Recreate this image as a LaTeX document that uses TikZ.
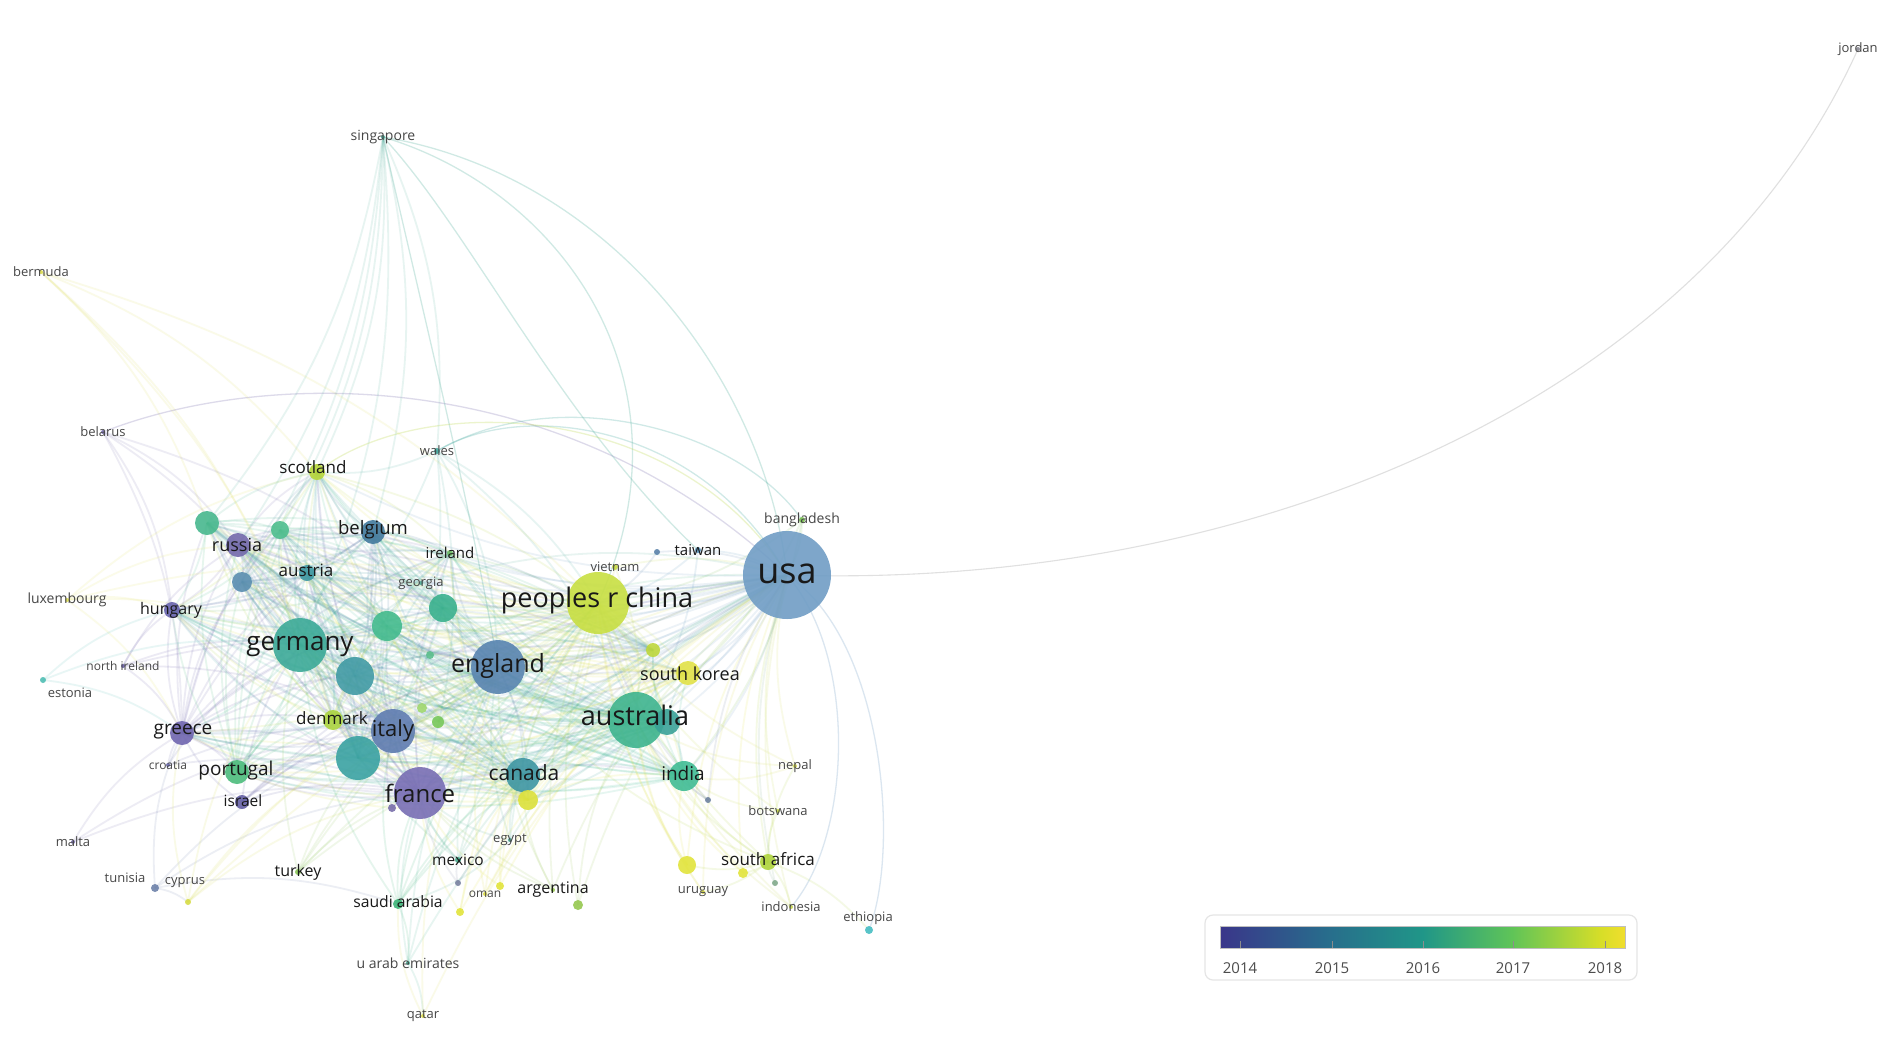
\documentclass[tikz,border=0pt]{standalone}
\usepackage{fontspec}
\setmainfont{Open Sans}
\usetikzlibrary{backgrounds}
% node colours
\definecolor{c-usa}{RGB}{112,157,197}
\definecolor{c-china}{RGB}{200,223,66}
\definecolor{c-aus}{RGB}{62,180,142}
\definecolor{c-aus2}{RGB}{58,162,152}
\definecolor{c-eng}{RGB}{88,132,176}
\definecolor{c-ger}{RGB}{60,170,152}
\definecolor{c-fra}{RGB}{120,110,180}
\definecolor{c-ita}{RGB}{95,124,176}
\definecolor{c-can}{RGB}{62,150,162}
\definecolor{c-canY}{RGB}{220,225,60}
\definecolor{c-ind}{RGB}{64,188,148}
\definecolor{c-kor}{RGB}{226,226,72}
\definecolor{c-gre}{RGB}{112,102,176}
\definecolor{c-por}{RGB}{76,188,124}
\definecolor{c-rus}{RGB}{116,106,172}
\definecolor{c-bel}{RGB}{66,122,158}
\definecolor{c-aut}{RGB}{62,152,162}
\definecolor{c-den}{RGB}{172,212,64}
\definecolor{c-gA}{RGB}{72,184,142}
\definecolor{c-gB}{RGB}{78,190,142}
\definecolor{c-sb}{RGB}{90,142,176}
\definecolor{c-gC}{RGB}{58,177,142}
\definecolor{c-gD}{RGB}{68,187,142}
\definecolor{c-tA}{RGB}{66,155,165}
\definecolor{c-tB}{RGB}{58,162,162}
\definecolor{c-sco}{RGB}{182,214,58}
\definecolor{c-irl}{RGB}{110,190,100}
\definecolor{c-hun}{RGB}{104,99,174}
\definecolor{c-ygA}{RGB}{190,215,60}
\definecolor{c-isr}{RGB}{100,95,165}
\definecolor{c-tur}{RGB}{140,200,90}
\definecolor{c-mex}{RGB}{70,170,140}
\definecolor{c-sau}{RGB}{60,180,120}
\definecolor{c-arg}{RGB}{150,200,80}
\definecolor{c-gH}{RGB}{150,200,80}
\definecolor{c-saf}{RGB}{175,212,60}
\definecolor{c-twn}{RGB}{90,150,190}
\definecolor{c-vnm}{RGB}{200,220,70}
\definecolor{c-bgd}{RGB}{120,190,80}
\definecolor{c-npl}{RGB}{215,220,80}
\definecolor{c-bwa}{RGB}{200,220,70}
\definecolor{c-ury}{RGB}{220,220,70}
\definecolor{c-idn}{RGB}{200,215,80}
\definecolor{c-eth}{RGB}{70,190,195}
\definecolor{c-egy}{RGB}{80,170,150}
\definecolor{c-omn}{RGB}{220,220,70}
\definecolor{c-uae}{RGB}{70,180,150}
\definecolor{c-qat}{RGB}{220,220,80}
\definecolor{c-mlt}{RGB}{120,110,175}
\definecolor{c-tun}{RGB}{110,130,170}
\definecolor{c-cyp}{RGB}{215,220,70}
\definecolor{c-hrv}{RGB}{110,110,175}
\definecolor{c-est}{RGB}{80,190,180}
\definecolor{c-nir}{RGB}{110,100,170}
\definecolor{c-lux}{RGB}{225,225,90}
\definecolor{c-blr}{RGB}{120,110,175}
\definecolor{c-wal}{RGB}{70,170,160}
\definecolor{c-geo}{RGB}{80,170,150}
\definecolor{c-sgp}{RGB}{70,170,150}
\definecolor{c-bmu}{RGB}{220,220,80}
\definecolor{c-jor}{RGB}{140,140,150}
\definecolor{c-yA}{RGB}{226,228,60}
\definecolor{c-yB}{RGB}{226,228,60}
\definecolor{c-yC}{RGB}{226,228,60}
\definecolor{c-yD}{RGB}{226,228,60}
\definecolor{c-d1}{RGB}{110,130,160}
\definecolor{c-d2}{RGB}{120,110,170}
\definecolor{c-d3}{RGB}{120,130,160}
\definecolor{c-gE}{RGB}{120,200,90}
\definecolor{c-gF}{RGB}{160,215,110}
\definecolor{c-gG}{RGB}{90,190,140}
\definecolor{c-sdA}{RGB}{130,170,140}
\definecolor{c-twd}{RGB}{90,130,170}
% legend colours
\definecolor{v0}{RGB}{58,54,138}
\definecolor{v1}{RGB}{40,108,140}
\definecolor{v2}{RGB}{32,150,136}
\definecolor{v3}{RGB}{95,196,88}
\definecolor{v4}{RGB}{215,222,40}
\definecolor{v5}{RGB}{240,222,45}
\definecolor{labc}{RGB}{25,25,25}
\definecolor{slabc}{RGB}{70,70,70}
\pgfdeclarehorizontalshading{viridisbar}{100bp}{color(0bp)=(v0); color(25bp)=(v0); color(38bp)=(v1); color(50bp)=(v2); color(61bp)=(v3); color(72bp)=(v4); color(75bp)=(v5); color(100bp)=(v5)}
\tikzset{
  nd/.style={circle, inner sep=0pt, outer sep=0pt, fill opacity=.9},
  lk/.style={line width=1.8pt, draw opacity=.13},
  lkf/.style={line width=1.3pt, draw opacity=.25},
  lab/.style={inner sep=0pt, text=labc},
  slab/.style={inner sep=0pt, text=slabc},
}
\begin{document}
\begin{tikzpicture}[x=1pt,y=-1pt]
\useasboundingbox (0,0) rectangle (1892,1037);
% ---------- nodes (circles)
\foreach \n/\x/\y/\r in {
 usa/787/575/44, china/598/603/31, aus/636/720/28, aus2/667/722/13, eng/498/667/27,
 ger/300/645/27, fra/420/793/26, ita/393/731/22, can/523/775/17, canY/528/800/10,
 ind/684/776/15, kor/688/673/12, gre/182/733/12, por/237/772/12, rus/238/545/12,
 bel/373/532/12, aut/307/573/8, den/333/720/10, gA/207/523/12, gB/280/530/9,
 sb/242/582/10, gC/443/608/14, gD/387/626/15, tA/355/676/19, tB/358/758/22,
 sco/317/472/8, irl/450/553/3, hun/172/610/8, ygA/653/650/7, isr/242/802/7,
 tur/298/872/3, mex/458/860/3, sau/398/904/5, arg/553/890/2, gH/578/905/5,
 saf/768/862/8, twn/698/550/3, vnm/615/567/3, bgd/802/520/3, npl/795/766/2,
 bwa/778/811/2, ury/703/892/2, idn/791/907/2, eth/869/930/4, egy/510/840/2,
 omn/485/894/2, uae/408/963/2, qat/423/1016/2, mlt/73/842/2, tun/155/888/4,
 cyp/188/902/3, hrv/168/765/2, est/43/680/3, nir/123/666/2, lux/67/600/2,
 blr/103/432/2, wal/437/451/3, geo/421/583/2, sgp/383/137/2, bmu/41/272/2,
 jor/1858/49/2, yA/687/865/9, yB/743/873/5, yC/460/912/4, yD/500/886/4,
 d1/708/800/3, d2/392/808/4, d3/458/883/3, gE/438/722/6, gF/422/708/5,
 gG/430/655/4, sdA/775/883/3, twd/657/552/3}
 \node[nd, minimum size=2*\r pt, fill=c-\n] (\n) at (\x,\y) {};
% ---------- edges
\begin{pgfonlayer}{background}
\fill[white] (0,0) rectangle (1892,1037);
\def\corelist{usa,china,aus,aus2,eng,ger,fra,ita,can,canY,ind,kor,gre,por,rus,bel,aut,den,gA,gB,sb,gC,gD,tA,tB,sco,irl,hun,ygA}
\foreach \a [count=\i] in \corelist {
  \foreach \b [count=\j] in \corelist {
    \ifnum\j>\i\relax
      \draw[lk, draw=c-\a] (\a.center) to[bend left=14] (\b.center);
    \fi
  }
}
\foreach \a/\b in {
 sgp/gA, sgp/rus, sgp/ger, sgp/bel, sgp/sco, sgp/gB, sgp/sb, sgp/wal,
 bmu/gA, bmu/sco, bmu/china, bmu/den, bmu/ger,
 blr/rus, blr/hun, blr/gre, blr/ger, blr/eng,
 lux/ger, lux/china, lux/hun, lux/rus, lux/gre, lux/sco,
 nir/gre, nir/ger, nir/eng, nir/hun, nir/rus, nir/ita,
 est/gre, est/ger, est/hun,
 hrv/gre, hrv/ita, hrv/fra, hrv/ger,
 mlt/gre, mlt/ita, mlt/fra,
 tun/fra, tun/gre, tun/ita, tun/cyp, tun/sau,
 cyp/gre, cyp/eng, cyp/fra, cyp/ita, cyp/usa, cyp/ger,
 isr/usa, isr/ger, isr/fra, isr/ita, isr/eng, isr/gre, isr/china,
 tur/fra, tur/ger, tur/eng, tur/usa, tur/ita, tur/china, tur/aus,
 mex/usa, mex/fra, mex/can, mex/china, mex/eng, mex/ger, mex/ita,
 omn/usa, omn/china, omn/eng, omn/aus,
 egy/usa, egy/china, egy/can, egy/fra, egy/eng, egy/sau,
 arg/usa, arg/fra, arg/can, arg/eng, arg/ger, arg/china,
 sau/usa, sau/china, sau/eng, sau/fra, sau/ita, sau/uae, sau/aus, sau/can, sau/ger,
 uae/usa, uae/fra, uae/qat, uae/china, uae/eng,
 qat/sau, qat/usa, qat/eng,
 saf/usa, saf/aus, saf/china, saf/bwa, saf/ind, saf/eth, saf/npl, saf/idn, saf/ury, saf/eng, saf/yA, saf/yB,
 bwa/usa, bwa/ind, bwa/china,
 npl/usa, npl/ind, npl/china, npl/aus,
 ury/usa, ury/china, ury/aus,
 idn/usa, idn/aus, idn/china,
 twn/usa, twn/china, twn/aus,
 vnm/usa, vnm/china, vnm/aus,
 bgd/usa, bgd/china, bgd/aus, bgd/ind,
 wal/eng, wal/sco, wal/ger, wal/aus, wal/china, wal/fra, wal/ita,
 geo/ger, geo/rus, geo/usa, geo/eng,
 yA/usa, yA/china, yA/aus, yA/ind, yB/usa, yB/china, yB/aus,
 yC/usa, yC/china, yC/fra, yC/can, yD/usa, yD/china, yD/fra, yD/can,
 d1/usa, d1/ind, d1/aus, d1/china, d2/fra, d2/usa, d2/ita, d3/usa, d3/mex, d3/fra,
 gE/usa, gE/china, gE/eng, gE/aus, gE/ger, gF/usa, gF/china, gF/eng, gF/ger,
 gG/usa, gG/china, gG/eng, gG/ger, gH/usa, gH/china, gH/aus,
 twd/usa, twd/china, sdA/usa, sdA/saf}
 \draw[lk, draw=c-\a] (\a.center) to[bend left=14] (\b.center);
% long arcs
\draw[lkf, draw=c-sgp] (sgp.center) .. controls (610,175) and (765,380) .. (usa.center);
\draw[lkf, draw=c-sgp] (sgp.center) .. controls (560,190) and (700,380) .. (china.center);
\draw[lkf, draw=c-sgp] (sgp.center) .. controls (470,230) and (560,420) .. (twn.center);
\draw[lkf, draw=c-sgp] (sgp.center) .. controls (420,300) and (470,500) .. (eng.center);
\draw[lkf, draw=c-blr] (blr.center) .. controls (260,370) and (560,360) .. (usa.center);
\draw[lkf, draw=c-wal] (wal.center) .. controls (520,400) and (700,420) .. (usa.center);
\draw[lkf, draw=c-wal] (wal.center) .. controls (560,380) and (740,430) .. (bgd.center);
\draw[lkf, draw=c-sco] (sco.center) .. controls (420,390) and (680,400) .. (usa.center);
\draw[lkf, draw=c-usa] (usa.center) .. controls (885,640) and (900,850) .. (eth.center);
\draw[lkf, draw=c-usa] (usa.center) .. controls (860,660) and (850,840) .. (idn.center);
\draw[line width=1.1pt, draw=black!12] (usa.center) .. controls (1250,590) and (1700,400) .. (jor.center);
\end{pgfonlayer}
% ---------- labels
\foreach \n/\x/\y/\t/\s in {
 usa/787/574/usa/36, china/597/600/peoples r china/27, aus/635/715/australia/27,
 eng/498/666/england/25, ger/300/647/germany/26, fra/420/793/france/24,
 ita/393/731/italy/22, can/524/773/canada/21, ind/683/773/india/19,
 kor/690/674/south korea/18, gre/183/732/greece/19, por/236/771/portugal/19,
 rus/237/545/russia/18, bel/373/530/belgium/18.5, sco/313/467/scotland/17,
 aut/306/570/austria/17, den/332/718/denmark/17, hun/171/610/hungary/16,
 irl/450/553/ireland/15, isr/243/801/israel/15.5, tur/298/872/turkey/16,
 mex/458/860/mexico/15.5, sau/398/902/saudi arabia/15.7, arg/553/890/argentina/16,
 saf/768/859/south africa/17, twn/698/550/taiwan/15}
 \node[lab, font=\fontsize{\s}{\s}\selectfont] (\n-l) at (\x,\y) {\t};
\foreach \n/\x/\y/\t/\s in {
 vnm/615/567/vietnam/13, bgd/802/520/bangladesh/14, npl/795/766/nepal/13,
 bwa/778/811/botswana/13, ury/703/892/uruguay/13, idn/791/907/indonesia/13,
 eth/868/918/ethiopia/13, egy/510/840/egypt/13, omn/485/894/oman/12,
 uae/408/963/u arab emirates/14, qat/423/1016/qatar/13, mlt/73/842/malta/13,
 tun/125/878/tunisia/13, cyp/185/883/cyprus/13, hrv/168/765/croatia/12,
 est/70/693/estonia/13, nir/123/666/north ireland/12, lux/67/600/luxembourg/14,
 blr/103/432/belarus/13, wal/437/451/wales/13, geo/421/583/georgia/13,
 sgp/383/137/singapore/14, bmu/41/272/bermuda/13, jor/1858/49/jordan/13}
 \node[slab, font=\fontsize{\s}{\s}\selectfont] (\n-l) at (\x,\y) {\t};
% ---------- legend
\node[draw=black!10, line width=1.2pt, fill=white, rounded corners=8pt, minimum width=432pt, minimum height=65pt, inner sep=0pt] (legend) at (1421,947.5) {};
\node[shading=viridisbar, draw=black!25, line width=.5pt, minimum width=405pt, minimum height=22pt, inner sep=0pt] (bar) at (1422.5,937) {};
\foreach \x/\t in {1240/2014, 1332/2015, 1423/2016, 1513/2017, 1605/2018} {
  \draw[black!45, line width=.8pt] (\x,948) -- (\x,941);
  \node[text=black!70, font=\fontsize{15}{15}\selectfont, inner sep=0pt] (yr\t) at (\x,968) {\t};
}
\end{tikzpicture}
\end{document}
